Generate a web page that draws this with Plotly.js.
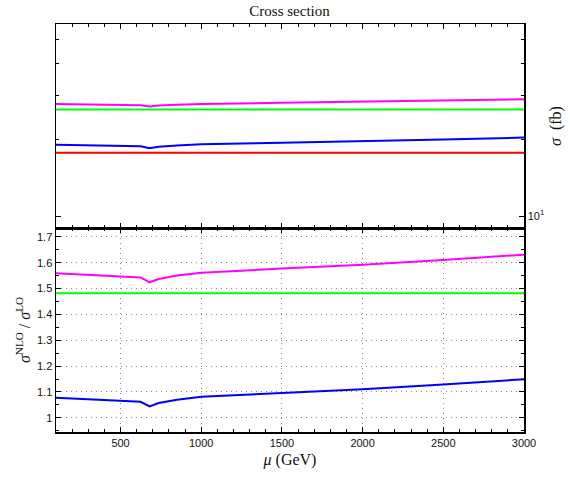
<!DOCTYPE html>
<html>
<head>
<meta charset="utf-8">
<script src="https://cdn.plot.ly/plotly-3.0.1.min.js"></script>
<style>html,body{margin:0;padding:0;background:#fff;}#chart{width:570px;height:481px;}</style>
</head>
<body>
<div id="chart"></div>
<script>
// scale mu (GeV)
const mu = [100, 624, 680, 736, 850, 1000, 1500, 2000, 2500, 3000];

// top panel: cross sections (fb)
const sigmaMagenta = [27.70, 27.43, 27.10, 27.33, 27.56, 27.75, 28.04, 28.31, 28.62, 28.95];
const sigmaGreen   = [26.35, 26.35, 26.35, 26.35, 26.35, 26.35, 26.35, 26.35, 26.35, 26.35];
const sigmaBlue    = [19.15, 18.88, 18.56, 18.79, 19.02, 19.22, 19.49, 19.73, 20.07, 20.43];
const sigmaRed     = [17.78, 17.78, 17.78, 17.78, 17.78, 17.78, 17.78, 17.78, 17.78, 17.78];

// bottom panel: K-factors sigma_NLO / sigma_LO
const ratioMagenta = [1.559, 1.543, 1.524, 1.537, 1.550, 1.561, 1.577, 1.592, 1.610, 1.631];
const ratioGreen   = [1.482, 1.482, 1.482, 1.482, 1.482, 1.482, 1.482, 1.482, 1.482, 1.482];
const ratioBlue    = [1.077, 1.062, 1.044, 1.057, 1.070, 1.081, 1.096, 1.110, 1.129, 1.149];

const xTicks = [500, 1000, 1500, 2000, 2500, 3000];
const yTicksTop = [10];
const yTickTextTop = ['10<sup>1</sup>'];
const yMinorTop = [20, 30, 40, 50];

const serif = 'Liberation Serif, DejaVu Serif, serif';
const sans = 'Liberation Sans, Arial, sans-serif';

function tr(x, y, color, xa, ya) {
  return {x: x, y: y, type: 'scatter', mode: 'lines', xaxis: xa, yaxis: ya,
          line: {color: color, width: 2}, hoverinfo: 'skip', showlegend: false};
}

const data = [
  tr(mu, sigmaMagenta, '#ff00ff', 'x2', 'y2'),
  tr(mu, sigmaGreen, '#00ff00', 'x2', 'y2'),
  tr(mu, sigmaBlue, '#0000ff', 'x2', 'y2'),
  tr(mu, sigmaRed, '#ff0000', 'x2', 'y2'),
  tr(mu, ratioMagenta, '#ff00ff', 'x', 'y'),
  tr(mu, ratioGreen, '#00ff00', 'x', 'y'),
  tr(mu, ratioBlue, '#0000ff', 'x', 'y')
];

const axCommon = {
  showline: true, linecolor: '#000', linewidth: 1.5, mirror: 'allticks',
  ticks: 'inside', ticklen: 5, tickwidth: 1, tickcolor: '#000',
  zeroline: false, tickfont: {family: sans, size: 11, color: '#111'}
};

const gridStyle = {showgrid: true, gridcolor: '#8c8c8c', griddash: '1px,4px', gridwidth: 1};

const layout = {
  width: 570, height: 481,
  margin: {l: 56, r: 46, t: 24, b: 49},
  paper_bgcolor: '#fff', plot_bgcolor: '#fff',
  title: {text: 'Cross section', font: {family: serif, size: 15, color: '#111'},
          x: 0.508, xanchor: 'center', y: 0.977, yanchor: 'middle'},
  xaxis: Object.assign({}, axCommon, gridStyle, {
    domain: [0, 1], anchor: 'y', range: [100, 3000],
    tickmode: 'array', tickvals: xTicks,
    minor: {tickmode: 'linear', tick0: 0, dtick: 100, ticks: 'inside', ticklen: 3, tickcolor: '#000', showgrid: false},
    title: {text: '<i>μ</i> (GeV)', font: {family: serif, size: 16, color: '#111'}, standoff: 6}
  }),
  yaxis: Object.assign({}, axCommon, gridStyle, {
    domain: [0, 0.5], anchor: 'x', range: [0.945, 1.734],
    tickmode: 'linear', tick0: 1, dtick: 0.1,
    minor: {tickmode: 'linear', tick0: 1, dtick: 0.05, ticks: 'inside', ticklen: 3, tickcolor: '#000', showgrid: false},
    title: {text: '<i>σ</i><sup>NLO</sup> / <i>σ</i><sup>LO</sup>', font: {family: serif, size: 16, color: '#111'}, standoff: 2}
  }),
  xaxis2: Object.assign({}, axCommon, {
    domain: [0, 1], anchor: 'y2', matches: 'x', range: [100, 3000],
    tickmode: 'array', tickvals: xTicks, showticklabels: false, showgrid: false,
    minor: {tickmode: 'linear', tick0: 0, dtick: 100, ticks: 'inside', ticklen: 3, tickcolor: '#000', showgrid: false}
  }),
  yaxis2: Object.assign({}, axCommon, {
    domain: [0.5, 1], anchor: 'x2', type: 'log', range: [0.953, 1.759], side: 'right',
    tickmode: 'array', tickvals: yTicksTop, ticktext: yTickTextTop, showgrid: false,
    minor: {tickmode: 'array', tickvals: yMinorTop, ticks: 'inside', ticklen: 3, tickcolor: '#000', showgrid: false},
    title: {text: '<i>σ</i>  (fb)', font: {family: serif, size: 16, color: '#111'}, standoff: 6}
  })
};

Plotly.newPlot('chart', data, layout, {displayModeBar: false, staticPlot: true});
</script>
</body>
</html>
